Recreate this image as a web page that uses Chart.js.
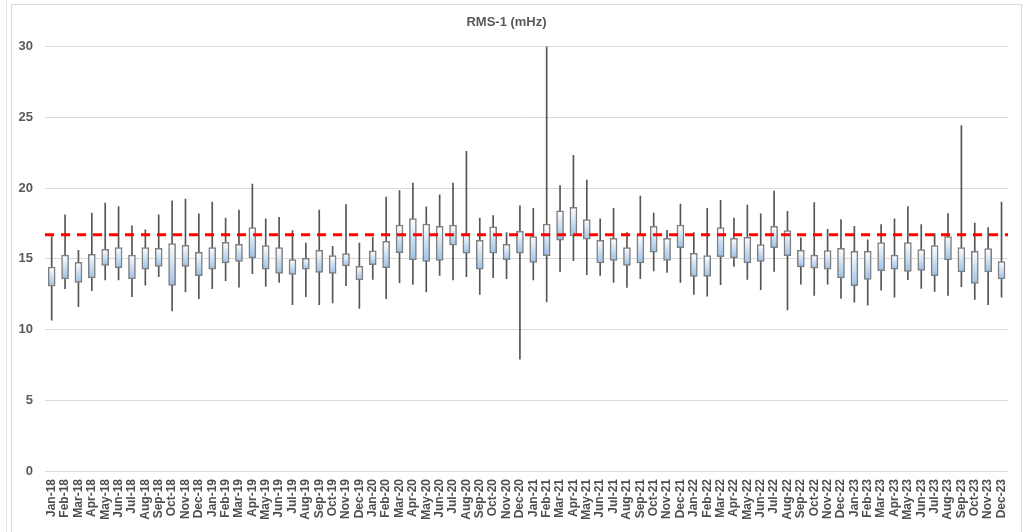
<!DOCTYPE html>
<html>
<head>
<meta charset="utf-8">
<script src="https://cdn.jsdelivr.net/npm/chart.js@4/dist/chart.umd.min.js"></script>
<style>
  html, body { margin: 0; padding: 0; background: #ffffff; }
  #wrap { position: relative; width: 1024px; height: 532px; overflow: hidden; }
  #frame { position: absolute; left: 11px; top: 4px; width: 1011px; height: 540px; border: 1px solid #d9d9d9; box-sizing: border-box; }
  #edge { position: absolute; left: 6px; top: 0; width: 1px; height: 532px; background: #e6e6e6; }
  canvas { position: absolute; left: 0; top: 0; }
</style>
</head>
<body>
<div id="wrap">
  <div id="edge"></div>
  <div id="frame"></div>
  <canvas id="c" width="1024" height="532"></canvas>
</div>
<script>
const months = ['Jan-18','Feb-18','Mar-18','Apr-18','May-18','Jun-18','Jul-18','Aug-18','Sep-18','Oct-18','Nov-18','Dec-18',
  'Jan-19','Feb-19','Mar-19','Apr-19','May-19','Jun-19','Jul-19','Aug-19','Sep-19','Oct-19','Nov-19','Dec-19',
  'Jan-20','Feb-20','Mar-20','Apr-20','May-20','Jun-20','Jul-20','Aug-20','Sep-20','Oct-20','Nov-20','Dec-20',
  'Jan-21','Feb-21','Mar-21','Apr-21','May-21','Jun-21','Jul-21','Aug-21','Sep-21','Oct-21','Nov-21','Dec-21',
  'Jan-22','Feb-22','Mar-22','Apr-22','May-22','Jun-22','Jul-22','Aug-22','Sep-22','Oct-22','Nov-22','Dec-22',
  'Jan-23','Feb-23','Mar-23','Apr-23','May-23','Jun-23','Jul-23','Aug-23','Sep-23','Oct-23','Nov-23','Dec-23'];

const whiskerHigh = [16.57,18.11,15.60,18.23,18.94,18.70,17.33,17.04,18.11,19.10,19.22,18.18,
  19.01,17.87,18.44,20.28,17.83,17.94,17.00,16.12,18.44,15.89,18.84,16.12,
  16.52,19.36,19.83,20.35,18.68,19.53,20.35,22.60,17.87,18.06,16.86,18.75,
  18.56,30.00,20.17,22.32,20.57,17.83,18.56,16.86,19.43,18.23,17.02,18.87,
  16.86,18.56,19.13,17.87,18.79,18.18,19.79,18.35,16.48,18.98,17.09,17.78,
  17.30,16.34,17.42,17.83,18.70,17.42,16.78,18.20,24.42,17.52,17.21,19.01];

const boxHigh = [14.42,15.27,14.75,15.32,15.67,15.79,15.27,15.79,15.74,16.08,15.96,15.46,
  15.79,16.17,16.03,17.21,15.93,15.79,14.94,15.04,15.60,15.22,15.37,14.47,
  15.56,16.24,17.38,17.85,17.45,17.30,17.38,16.78,16.31,17.26,16.03,16.95,
  16.57,17.45,18.39,18.63,17.78,16.31,16.45,15.79,16.69,17.30,16.45,17.38,
  15.39,15.22,17.21,16.45,16.52,16.00,17.30,17.00,15.60,15.27,15.58,15.74,
  15.53,15.53,16.15,15.27,16.15,15.65,15.93,16.57,15.79,15.53,15.72,14.80];

const boxLow = [13.07,13.57,13.33,13.64,14.54,14.37,13.57,14.26,14.47,13.12,14.47,13.81,
  14.26,14.70,14.82,15.06,14.26,13.97,13.90,14.26,14.04,13.97,14.49,13.50,
  14.59,14.37,15.44,14.94,14.82,14.89,15.96,15.39,14.26,15.39,14.94,15.39,
  14.75,15.22,16.31,16.62,16.38,14.70,14.89,14.54,14.70,15.46,14.89,15.79,
  13.76,13.76,15.15,15.06,14.70,14.82,15.79,15.22,14.42,14.33,14.26,13.64,
  13.10,13.55,14.16,14.26,14.11,14.18,13.81,14.92,14.07,13.26,14.07,13.57];

const whiskerLow = [10.66,12.88,11.61,12.74,13.50,13.50,12.32,13.14,13.74,11.32,12.65,12.18,
  12.88,13.45,13.00,13.95,13.05,13.33,11.75,12.32,11.75,11.89,13.10,11.49,
  13.55,12.18,13.31,13.19,12.65,13.83,13.50,13.74,12.48,13.66,13.59,7.90,
  13.50,11.96,14.09,14.87,13.88,13.83,13.33,12.98,13.59,14.14,14.04,13.33,
  12.48,12.36,13.17,14.47,13.55,12.81,14.11,11.39,13.21,12.41,13.21,12.20,
  11.94,11.73,12.79,12.29,13.52,12.91,12.70,12.41,13.03,12.13,11.75,12.29];

const targetValue = 16.7;
const yTicks = [0, 5, 10, 15, 20, 25, 30];

const boxData = months.map((m, i) => [boxLow[i], boxHigh[i]]);
const whiskerData = months.map((m, i) => [whiskerLow[i], whiskerHigh[i]]);
const targetData = [{x: 0, y: targetValue}, {x: 1, y: targetValue}];

const FONT = "'Liberation Sans', 'DejaVu Sans', sans-serif";

function boxFill(ctx) {
  const chart = ctx.chart;
  const ys = chart.scales && chart.scales.y;
  if (ctx.type !== 'data' || !ys || !Array.isArray(ctx.raw)) return '#c9dcf0';
  const top = ys.getPixelForValue(Math.max(ctx.raw[0], ctx.raw[1]));
  const bot = ys.getPixelForValue(Math.min(ctx.raw[0], ctx.raw[1]));
  if (!isFinite(top) || !isFinite(bot) || top === bot) return '#c9dcf0';
  const g = chart.ctx.createLinearGradient(0, top, 0, bot);
  g.addColorStop(0, '#ffffff');
  g.addColorStop(1, '#9cc2e7');
  return g;
}

new Chart(document.getElementById('c'), {
  type: 'bar',
  data: {
    labels: months,
    datasets: [
      {
        type: 'line',
        label: 'Target',
        xAxisID: 'x2',
        data: targetData,
        borderColor: '#ff0000',
        borderWidth: 3,
        borderDash: [9, 7],
        pointRadius: 0,
        fill: false
      },
      {
        label: 'Box',
        data: boxData,
        grouped: false,
        barThickness: 7,
        backgroundColor: boxFill,
        borderColor: '#7f7f7f',
        borderWidth: 1.5,
        borderSkipped: false
      },
      {
        label: 'Range',
        data: whiskerData,
        grouped: false,
        barThickness: 1,
        backgroundColor: '#555555',
        borderWidth: 0
      }
    ]
  },
  options: {
    responsive: false,
    animation: false,
    layout: { padding: { left: 0, right: 11, top: 5, bottom: 0 } },
    plugins: {
      legend: { display: false },
      tooltip: { enabled: false },
      title: {
        display: true,
        text: 'RMS-1 (mHz)',
        color: '#595959',
        font: { family: FONT, size: 13, weight: 'bold' },
        padding: { top: 10, bottom: 16 }
      }
    },
    scales: {
      x: {
        type: 'category',
        offset: true,
        grid: { display: false, drawTicks: false },
        border: { display: false },
        ticks: {
          autoSkip: false,
          maxRotation: 90,
          minRotation: 90,
          padding: 8,
          color: '#4d4d4d',
          font: { family: FONT, size: 12, weight: 'bold' }
        },
        afterFit: (s) => { s.height = 61; }
      },
      x2: {
        type: 'linear',
        position: 'bottom',
        display: true,
        min: 0,
        max: 1,
        offset: false,
        grid: { display: false, drawTicks: false },
        border: { display: false },
        ticks: { display: false },
        afterFit: (s) => { s.height = 0; }
      },
      y: {
        min: 0,
        max: 30,
        afterBuildTicks: (s) => { s.ticks = yTicks.map(v => ({ value: v })); },
        grid: { color: '#d9d9d9', lineWidth: 1, drawTicks: false },
        border: { display: false },
        ticks: {
          padding: 12,
          color: '#595959',
          font: { family: FONT, size: 13, weight: 'bold' }
        },
        afterFit: (s) => { s.width = 45; }
      }
    }
  }
});
</script>
</body>
</html>
